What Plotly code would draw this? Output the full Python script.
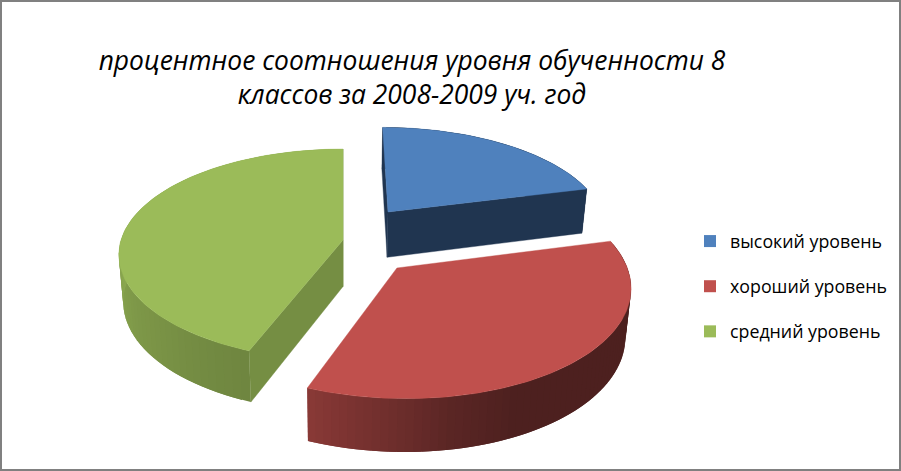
import numpy as np
import plotly.graph_objects as go

categories = ["высокий уровень", "хороший уровень", "средний уровень"]
values = [21, 35, 44]
title_lines = ["процентное соотношения уровня обученности 8", "классов за 2008-2009 уч. год"]
colors = ["#4F81BD", "#C0504D", "#9BBB59"]
wall_colors = ["#203550", "#4D1F1F", "#758E43"]

# projection of the pie plane onto the page (x right, y down, in pixels)
X0, Y0, R, K, P, H, DROP = 343.0, 240.0, 222.0, 103.7, 0.14, 47.4, 1.02
# exploded slice centres in plane units
CENTRE_X = [0.2107, 0.234, 0.0]
CENTRE_Z = [-0.2806, 0.26, 0.0]
STRIPS = 70


def project(x, z, bottom=False):
    w = 1 - P * z
    if bottom:
        return X0 + R * x / (w * DROP), Y0 + (K * z + H) / (w * DROP)
    return X0 + R * x / w, Y0 + K * z / w


def shade(theta):
    return np.interp(theta % 360, [0, 155, 170, 181, 201, 270, 360],
                     [0.40, 0.40, 0.47, 0.56, 0.71, 0.89, 0.95])


def tint(color, s):
    r, g, b = [int(color[i:i + 2], 16) for i in (1, 3, 5)]
    return f"rgb({r * s:.0f},{g * s:.0f},{b * s:.0f})"


def poly(xs, ys, color, line=0.0):
    return go.Scatter(x=list(xs), y=list(ys), mode="lines", fill="toself", fillcolor=color,
                      line=dict(color=color, width=line), hoverinfo="skip", showlegend=False)


fig = go.Figure()
angles = np.cumsum([0] + values) / sum(values) * 360.0
for i in [0, 2, 1]:
    a0, a1 = angles[i], angles[i + 1]
    cx, cz = CENTRE_X[i], CENTRE_Z[i]
    th = np.radians(np.linspace(a0, a1, STRIPS + 1))
    ax, az = cx + np.sin(th), cz - np.cos(th)
    # curved outer side: each strip overlaps the next one so no seam shows
    for j in range(STRIPS):
        tx, ty = project(ax[j:j + 3], az[j:j + 3])
        bx, by = project(ax[j:j + 3], az[j:j + 3], True)
        s = shade(np.degrees(th[j] + th[j + 1]) / 2)
        fig.add_trace(poly(np.r_[tx, bx[::-1], tx[0]], np.r_[ty, by[::-1], ty[0]], tint(colors[i], s)))
    # cut faces that look towards the viewer
    facing = [-np.sin(np.radians(a0)), np.sin(np.radians(a1))]
    for k, f in zip((0, -1), facing):
        if f < -1e-6:
            continue
        tx, ty = project(np.array([cx, ax[k]]), np.array([cz, az[k]]))
        bx, by = project(np.array([cx, ax[k]]), np.array([cz, az[k]]), True)
        fig.add_trace(poly(np.r_[tx, bx[::-1], tx[0]], np.r_[ty, by[::-1], ty[0]], wall_colors[i], line=0.4))
    # top face
    fine = np.radians(np.linspace(a0, a1, 120))
    tx, ty = project(np.r_[cx, cx + np.sin(fine), cx], np.r_[cz, cz - np.cos(fine), cz])
    fig.add_trace(poly(tx, ty, colors[i], line=0.4))

for i, c in enumerate(categories):
    fig.add_trace(go.Scatter(x=[None], y=[None], mode="markers", name=c, legendgroup=c,
                             marker=dict(symbol="square", size=12, color=colors[i]),
                             hoverinfo="skip"))

fig.update_layout(
    width=901, height=471, margin=dict(l=0, r=0, t=0, b=0),
    paper_bgcolor="white", plot_bgcolor="white",
    xaxis=dict(range=[0, 901], visible=False, fixedrange=True),
    yaxis=dict(range=[471, 0], visible=False, fixedrange=True),
    title=dict(text="<br>".join(title_lines), x=412 / 901, xanchor="center", y=1 - 70 / 471, yanchor="top",
               font=dict(family="Open Sans", size=26.4, color="black", style="italic")),
    legend=dict(x=690 / 901, y=1 - 223 / 471, xanchor="left", yanchor="top", tracegroupgap=19,
                font=dict(family="Open Sans", size=17.8, color="black"), bgcolor="rgba(0,0,0,0)"),
    shapes=[dict(type="rect", xref="paper", yref="paper", x0=0, y0=0, x1=1, y1=1,
                 line=dict(color="#808080", width=4), fillcolor="rgba(0,0,0,0)")],
)
fig.write_html("out.html", config={"displayModeBar": False},
               post_script="document.body.style.margin='0';")
